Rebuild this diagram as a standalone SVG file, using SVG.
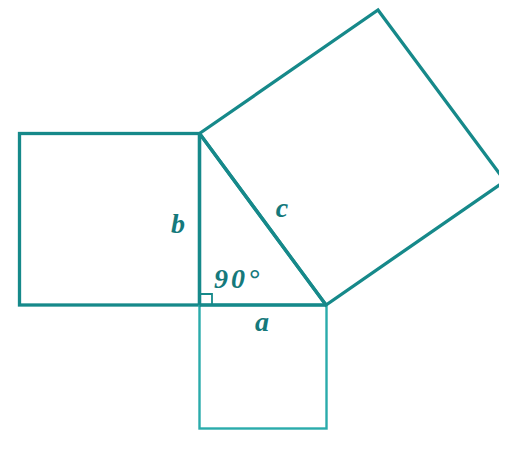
<svg xmlns="http://www.w3.org/2000/svg" width="512" height="449" viewBox="0 0 512 449">
<defs>
<style>
.s{fill:none;stroke:#16898a;stroke-width:3.3;stroke-linejoin:miter}
.l{fill:none;stroke:#2aabab;stroke-width:2.4}
.t{font-family:"Liberation Serif",serif;font-style:italic;font-weight:bold;font-size:28px;fill:#15797b}
</style>
<clipPath id="cp"><rect x="0" y="0" width="499" height="449"/></clipPath>
</defs>
<rect width="512" height="449" fill="#fff"/>
<g id="square-b"><rect class="s" x="19.5" y="133.5" width="180" height="171.5"/></g>
<g id="square-a"><rect class="l" x="199.5" y="305" width="127" height="123.5"/></g>
<g id="square-c" clip-path="url(#cp)"><polygon class="s" points="199.5,133.5 378,10 505,181 326,305"/></g>
<g id="triangle">
<line class="s" x1="199.5" y1="133.5" x2="199.5" y2="305"/>
<line class="s" x1="199.5" y1="305" x2="326" y2="305"/>
<line class="s" x1="199.5" y1="133.5" x2="326" y2="305"/>
<polyline fill="none" stroke="#16898a" stroke-width="1.8" points="199.5,294 212,294 212,305"/>
</g>
<g id="labels">
<text class="t" x="178" y="233" text-anchor="middle">b</text>
<text class="t" x="282" y="217" text-anchor="middle">c</text>
<text class="t" x="262" y="331" text-anchor="middle">a</text>
<text class="t" x="214" y="288" letter-spacing="3">90°</text>
</g>
</svg>
